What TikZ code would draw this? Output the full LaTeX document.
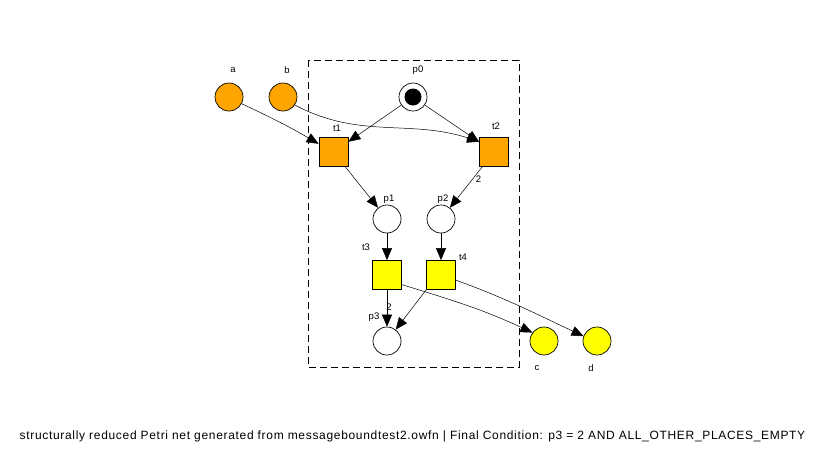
\documentclass[tikz,border=0pt]{standalone}
\usepackage{fontspec}
\setmainfont{Liberation Sans}
\newfontfamily\capfont[LetterSpace=5.7]{Liberation Sans}
\usetikzlibrary{arrows.meta}
\definecolor{netorange}{RGB}{255,165,0}
\definecolor{netyellow}{RGB}{255,255,0}
\begin{document}
\begin{tikzpicture}[x=1pt,y=-1pt,line width=0.7pt,
	place/.style={draw,circle,minimum size=28pt,inner sep=0pt},
	trans/.style={draw,rectangle,minimum size=29pt,inner sep=0pt},
	lbl/.style={font=\fontsize{9.5}{11}\selectfont,inner sep=0pt},
	arc/.style={-{Triangle[length=12pt,width=10pt]},line width=0.5pt}]
		\useasboundingbox (0,0) rectangle (826,453);
		\draw[dashed,dash pattern=on 7pt off 4pt] (308,60) rectangle (519,367);
		\node[place,fill=netorange] (a) at (229,97) {};
		\node[place,fill=netorange] (b) at (283,97) {};
		\node[place] (p0) at (413,97) {};
		\node[circle,fill=black,minimum size=17pt,inner sep=0pt] (tok) at (413,97) {};
		\node[trans,fill=netorange] (t1) at (333.5,152) {};
		\node[trans,fill=netorange] (t2) at (494,152) {};
		\node[place] (p1) at (387,219) {};
		\node[place] (p2) at (441,219) {};
		\node[trans,fill=netyellow] (t3) at (387,275) {};
		\node[trans,fill=netyellow] (t4) at (441,275) {};
		\node[place] (p3) at (387,341) {};
		\node[place,fill=netyellow] (c) at (544,341) {};
		\node[place,fill=netyellow] (d) at (597,341) {};
		\node[lbl] (la) at (233,70) {a};
		\node[lbl] (lb) at (287,70) {b};
		\node[lbl] (lp0) at (418,70) {p0};
		\node[lbl] (lt1) at (337,128) {t1};
		\node[lbl] (lt2) at (496,126) {t2};
		\node[lbl] (lp1) at (389,199) {p1};
		\node[lbl] (lp2) at (443,199) {p2};
		\node[lbl] (lt3) at (366,247) {t3};
		\node[lbl] (lt4) at (463,257) {t4};
		\node[lbl] (lp3) at (374,317) {p3};
		\node[lbl] (lc) at (537,368) {c};
		\node[lbl] (ld) at (591,368) {d};
		\draw[arc] (a.-28) to[out=-25,in=150] (t1.151);
		\draw[arc] (b.-34) to[out=-28,in=162] (t2.145);
		\draw[arc] (p0) -- (t1);
		\draw[arc] (p0) -- (t2);
		\draw[arc] (t1) -- (p1);
		\draw[arc] (t2) -- node[lbl,pos=0.3,right=3pt] (w2) {2} (p2);
		\draw[arc] (p1) -- (t3);
		\draw[arc] (p2) -- (t4);
		\draw[arc] (t3) -- (p3);
		\node[lbl] (w3) at (389,307) {2};
		\draw[arc] (t4.south west) -- (p3);
		\draw[arc] (t3.-33) to[out=-17,in=155] (c.144);
		\draw[arc] (t4.-19) to[out=-20,in=155] (d.160);
		\node[font=\capfont\fontsize{12}{14}\selectfont,inner sep=0pt] (cap) at (412.5,436)
			{structurally reduced Petri net generated from messageboundtest2.owfn | Final Condition: p3 = 2 AND ALL\_OTHER\_PLACES\_EMPTY};
	\end{tikzpicture}
\end{document}
